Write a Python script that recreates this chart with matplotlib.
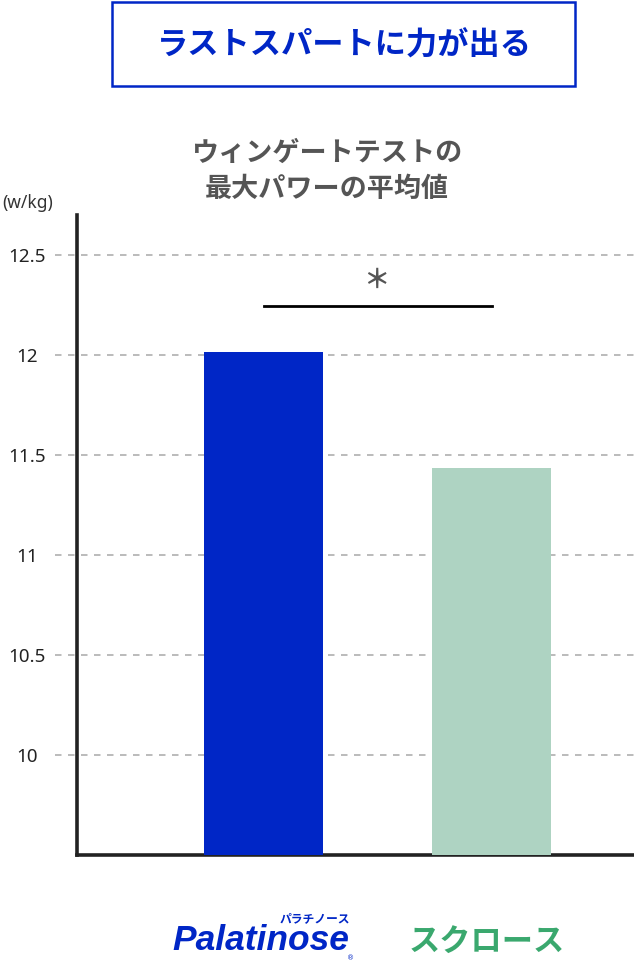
import matplotlib
matplotlib.use("Agg")
import matplotlib.pyplot as plt
from matplotlib.patches import Rectangle

plt.rcParams['font.family'] = ['Noto Sans CJK JP', 'DejaVu Sans']

# ---- Data ----
categories = ["Palatinose", "スクロース"]
values = [12.015, 11.435]
bar_colors = ["#0026c6", "#aed3c2"]
yticks = [10, 10.5, 11, 11.5, 12, 12.5]
ytick_labels = ["10", "10.5", "11", "11.5", "12", "12.5"]
sig_level = 12.245

BLUE = "#0026c6"
GREEN = "#3aa86e"

fig = plt.figure(figsize=(6.34, 9.68), dpi=100, facecolor="white")
ax = fig.add_axes([77 / 634, 113 / 968, 557 / 634, 640 / 968])

x = list(range(len(categories)))
ax.bar(x, values, width=0.522, color=bar_colors, zorder=3)

ax.set_xlim(-0.818, 1.625)
ax.set_ylim(9.5, 12.7)

# gridlines run a bit past the left spine
for t in yticks:
    ax.plot([-0.914, 1.625], [t, t], color="#b5b5b5", linestyle=(0, (3.6, 3.6)),
            linewidth=1.3, clip_on=False, zorder=1)

ax.set_yticks(yticks)
ax.set_yticklabels(ytick_labels, fontsize=13.5, color="#222222",
                   family=["Noto Sans", "DejaVu Sans"], ha="center")
ax.tick_params(axis="y", length=0, pad=36)
ax.set_xticks([])

for s in ["top", "right"]:
    ax.spines[s].set_visible(False)
for s in ["left", "bottom"]:
    ax.spines[s].set_linewidth(2.6)
    ax.spines[s].set_color("#222222")

# significance bar
ax.plot([x[0], x[1]], [sig_level, sig_level], color="black", linewidth=2, zorder=4)
fig.text(376 / 634, 1 - 280 / 968, "＊", ha="center", va="center",
         fontsize=19, fontweight="bold", color="#555555")

# ---- Header ----
fig.patches.append(Rectangle((112 / 634, 1 - 86 / 968), 463 / 634, 84 / 968,
                             transform=fig.transFigure, fill=False,
                             edgecolor=BLUE, linewidth=1.8))
fig.text(344 / 634, 1 - 46 / 968, "ラストスパートに力が出る", ha="center", va="center",
         fontsize=22.5, fontweight="bold", color=BLUE)
fig.text(327 / 634, 1 - 171 / 968, "ウィンゲートテストの\n最大パワーの平均値",
         ha="center", va="center", fontsize=19.5, fontweight="bold", color="#555555",
         linespacing=1.35)
fig.text(2 / 634, 1 - 203 / 968, "(w/kg)", ha="left", va="center",
         fontsize=12.5, color="#333333", family=["Noto Sans", "DejaVu Sans"])

# ---- Category labels ----
fig.text(261 / 634, 1 - 940 / 968, categories[0], ha="center", va="center",
         fontsize=25.5, fontweight="bold", style="italic", color=BLUE,
         family=["Liberation Sans", "DejaVu Sans"])
fig.text(315 / 634, 1 - 919 / 968, "パラチノース", ha="center", va="center",
         fontsize=8.5, fontweight="bold", color=BLUE)
fig.text(351 / 634, 1 - 958 / 968, "®", ha="center", va="center",
         fontsize=5, color=BLUE, family=["DejaVu Sans"])
fig.text(487 / 634, 1 - 942 / 968, categories[1], ha="center", va="center",
         fontsize=22.5, fontweight="bold", color=GREEN)

fig.savefig("out.png", dpi=100, facecolor="white")
plt.close()
